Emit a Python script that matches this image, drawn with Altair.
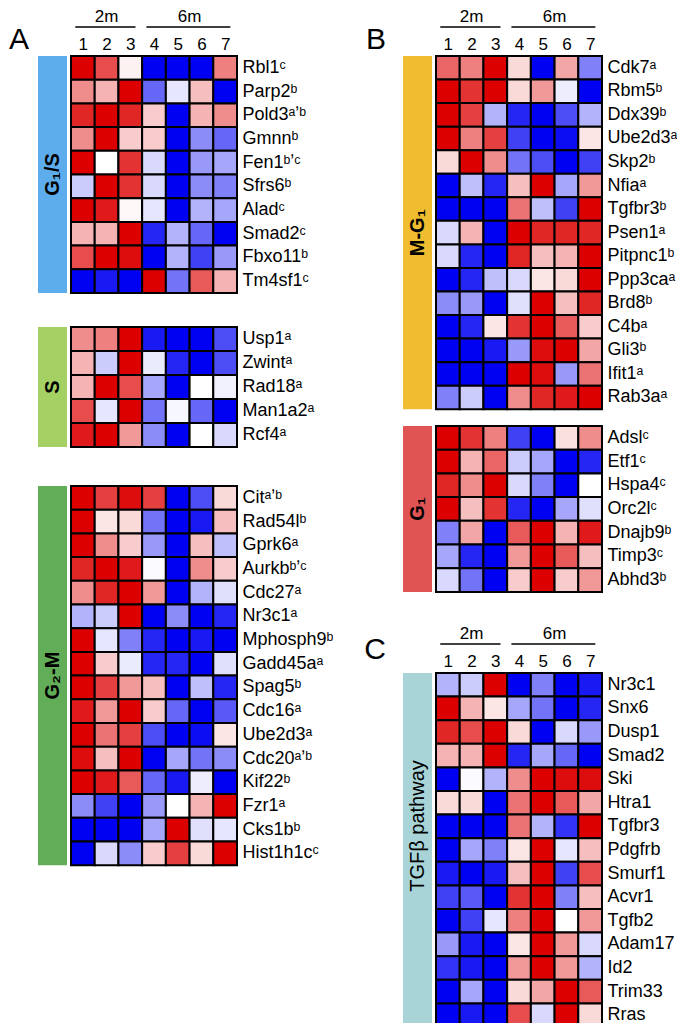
import altair as alt
import pandas as pd

# ---------------- data ----------------
columns = [1, 2, 3, 4, 5, 6, 7]
age_labels = ["2m", "6m"]
age_start = [1, 4]
age_end = [3, 7]

g1s_genes = ["Rbl1", "Parp2", "Pold3", "Gmnn", "Fen1", "Sfrs6", "Alad", "Smad2", "Fbxo11", "Tm4sf1"]
g1s_notes = ["c", "b", "a,b", "b", "b,c", "b", "c", "c", "b", "c"]
g1s_vals = [
    [1.0, 0.7, 0.05, -1.0, -1.0, -1.0, 0.5],
    [0.45, 0.3, 1.0, -0.6, -0.1, 0.25, -1.0],
    [0.85, 1.0, 0.85, 0.2, -1.0, 0.3, 0.45],
    [0.45, 1.0, 0.2, 0.2, -1.0, -0.45, -0.6],
    [1.0, 0.0, 0.8, -0.15, -1.0, -0.4, -0.35],
    [-0.2, 1.0, 0.8, -0.15, -1.0, -0.45, -0.5],
    [1.0, 0.9, 0.03, -0.1, -1.0, -0.3, -0.35],
    [0.3, 0.3, 1.0, -0.85, -0.3, -0.6, -1.0],
    [0.7, 1.0, 0.95, -1.0, -0.3, -0.75, -0.4],
    [-1.0, -0.9, -1.0, 1.0, -0.55, 0.65, 0.3],
]

s_genes = ["Usp1", "Zwint", "Rad18", "Man1a2", "Rcf4"]
s_notes = ["a", "a", "a", "a", "a"]
s_vals = [
    [0.45, 0.5, 1.0, -0.9, -1.0, -1.0, -0.7],
    [0.3, -0.2, 1.0, -0.08, -0.85, -1.0, -0.7],
    [0.3, 1.0, 0.7, -0.35, -1.0, 0.0, -0.05],
    [0.7, -0.1, 1.0, -0.55, -0.03, -0.6, -1.0],
    [0.9, 1.0, 0.4, -0.45, -1.0, 0.0, -0.15],
]

g2m_genes = ["Cit", "Rad54l", "Gprk6", "Aurkb", "Cdc27", "Nr3c1", "Mphosph9", "Gadd45a",
             "Spag5", "Cdc16", "Ube2d3", "Cdc20", "Kif22", "Fzr1", "Cks1b", "Hist1h1c"]
g2m_notes = ["a,b", "b", "a", "b,c", "a", "a", "b", "a", "b", "a", "a", "a,b", "b", "a", "b", "c"]
g2m_vals = [
    [1.0, 0.75, 0.95, 0.75, -1.0, -0.7, 0.15],
    [1.0, 0.1, 0.15, -0.55, -1.0, -0.9, 0.25],
    [1.0, 0.45, 0.2, -0.4, -1.0, 0.25, -0.25],
    [0.85, 1.0, 0.9, -0.02, -1.0, 0.45, 0.2],
    [0.45, 0.85, 1.0, 0.4, -1.0, -0.3, -0.12],
    [-0.3, -0.2, 1.0, -1.0, -0.45, -1.0, -0.85],
    [1.0, -0.1, -0.5, -0.85, -1.0, -0.9, -1.0],
    [1.0, 0.2, -0.08, -0.85, -0.85, -1.0, -0.12],
    [1.0, 0.75, 0.4, 0.25, -1.0, -0.25, -0.85],
    [0.9, 0.4, 1.0, 0.2, -0.6, -1.0, -0.65],
    [1.0, 0.55, 0.75, -0.7, -1.0, -0.95, 0.1],
    [0.95, 0.25, 1.0, -1.0, -0.35, -0.55, -0.45],
    [1.0, 0.9, 0.65, -0.6, -0.9, -0.07, -1.0],
    [-0.45, -0.75, -1.0, -0.4, 0.0, 0.3, 1.0],
    [-1.0, -1.0, -1.0, -0.35, 1.0, -0.12, -0.1],
    [-1.0, -0.15, -0.45, 0.2, 0.75, 0.15, 1.0],
]

mg1_genes = ["Cdk7", "Rbm5", "Ddx39", "Ube2d3", "Skp2", "Nfia", "Tgfbr3", "Psen1",
             "Pitpnc1", "Ppp3ca", "Brd8", "C4b", "Gli3", "Ifit1", "Rab3a"]
mg1_notes = ["a", "b", "b", "a", "b", "a", "b", "a", "b", "a", "b", "a", "b", "a", "a"]
mg1_vals = [
    [0.6, 0.5, 1.0, 0.15, -1.0, 0.35, -0.5],
    [1.0, 0.8, 1.0, 0.15, 0.4, -0.07, -1.0],
    [1.0, 0.75, -0.3, -0.85, -1.0, -0.7, -0.3],
    [1.0, 0.5, 0.75, -0.75, -1.0, -0.95, 0.1],
    [0.15, 1.0, 0.45, -0.55, -0.7, -1.0, -0.75],
    [-1.0, -0.25, -0.85, 0.25, 1.0, -0.35, 0.4],
    [-1.0, -1.0, -1.0, 0.55, -0.25, -0.75, 1.0],
    [-0.15, 0.3, -1.0, 1.0, 0.85, 0.85, 0.85],
    [-0.15, -0.85, -1.0, 0.85, 0.25, 0.3, 1.0],
    [-1.0, -0.85, -0.25, -0.15, 0.1, 0.15, 1.0],
    [-0.45, -0.4, -1.0, -0.12, 1.0, 0.25, 0.85],
    [-1.0, -0.85, 0.1, 0.8, 1.0, 0.65, 0.2],
    [-1.0, -1.0, -0.9, -0.4, 0.95, 1.0, 0.35],
    [-1.0, -1.0, -1.0, 1.0, 0.95, -0.4, 0.55],
    [-0.5, -0.2, -1.0, 0.45, 0.85, 0.9, 1.0],
]

g1_genes = ["Adsl", "Etf1", "Hspa4", "Orc2l", "Dnajb9", "Timp3", "Abhd3"]
g1_notes = ["c", "c", "c", "c", "b", "c", "b"]
g1_vals = [
    [1.0, 0.8, 0.5, -0.75, -1.0, 0.12, 0.45],
    [1.0, 0.3, 0.6, -0.2, -0.35, -1.0, -0.85],
    [0.85, 0.45, 1.0, -0.15, -0.5, -1.0, 0.0],
    [1.0, 0.25, 0.8, -0.85, -1.0, -0.35, -0.12],
    [-0.5, 0.35, -1.0, 0.65, 1.0, 0.3, 0.9],
    [-0.35, -0.85, -1.0, 0.4, 1.0, 0.65, 0.25],
    [-0.15, -0.55, -1.0, 0.2, 1.0, 0.2, 0.4],
]

tgf_genes = ["Nr3c1", "Snx6", "Dusp1", "Smad2", "Ski", "Htra1", "Tgfbr3", "Pdgfrb",
             "Smurf1", "Acvr1", "Tgfb2", "Adam17", "Id2", "Trim33", "Rras"]
tgf_notes = [""] * 15
tgf_vals = [
    [-0.3, -0.2, 1.0, -1.0, -0.5, -1.0, -0.9],
    [1.0, 0.3, 0.1, -0.35, -0.55, -1.0, -0.85],
    [0.85, 0.7, 1.0, 0.15, -1.0, -0.15, -0.4],
    [0.3, 0.3, 1.0, -0.85, -0.35, -0.6, -1.0],
    [-1.0, -0.02, -0.3, 0.45, 1.0, 0.95, 0.95],
    [0.15, 0.15, -1.0, 0.55, 1.0, 0.65, 0.35],
    [-1.0, -1.0, -1.0, 0.55, -0.3, -0.8, 1.0],
    [-1.0, -0.35, -0.5, 0.1, 1.0, -0.1, 0.25],
    [-0.9, -1.0, -0.9, 0.25, 1.0, -0.75, 0.7],
    [-0.75, -0.65, -1.0, 0.8, 1.0, -0.5, 0.25],
    [-1.0, -0.75, -0.1, 0.5, 1.0, 0.0, 0.4],
    [-0.4, -0.9, -1.0, 0.1, 1.0, 0.4, -0.15],
    [-0.8, -0.9, -1.0, 0.4, 1.0, 0.4, -0.3],
    [-1.0, -0.35, -1.0, 0.15, 0.35, 1.0, 0.65],
    [-1.0, -0.9, -1.0, 0.7, -0.15, 1.0, 0.15],
]

# ---------------- helpers ----------------
FONT = "Liberation Sans"
SUP = {"a": "\u1d43", "b": "\u1d47", "c": "\u1d9c", ",": "\u02bc"}
color_scale = alt.Scale(domain=[-1, 0, 1], range=["#0000f2", "#ffffff", "#dc0000"],
                        interpolate="rgb")
HEAT_W = 166
LABEL_SIZE = 18


def label_of(gene, note):
    return gene + "".join(SUP[ch] for ch in note)


def heat_panel(genes, notes, vals, cell, group, bar_color, group_weight="bold",
               group_dy=0, letter=None, letter_dx=-55, letter_dy=-7, header=False):
    labels = [label_of(g, n) for g, n in zip(genes, notes)]
    rows = []
    for lab, row in zip(labels, vals):
        for c, v in zip(columns, row):
            rows.append({"label": lab, "col": c, "val": v})
    df = pd.DataFrame(rows)
    height = len(genes) * cell

    xscale = alt.Scale(domain=[0.5, 7.5], nice=False, zero=False)
    if header:
        xaxis = alt.Axis(orient="top", values=columns, format="d", ticks=False, domain=False,
                         grid=False, labelFontSize=17, labelPadding=3, title=None,
                         labelFont=FONT, labelColor="black", labelOverlap=False,
                         labelFlush=False, labelBound=False)
    else:
        xaxis = None

    rect = alt.Chart(df).transform_calculate(
        x0="datum.col - 0.5", x1="datum.col + 0.5"
    ).mark_rect(stroke="black", strokeWidth=2).encode(
        x=alt.X("x0:Q", scale=xscale, axis=xaxis),
        x2="x1:Q",
        y=alt.Y("label:N", sort=labels,
                scale=alt.Scale(paddingInner=0, paddingOuter=0),
                axis=alt.Axis(orient="right", title=None, domain=False, ticks=False,
                              labelFontSize=LABEL_SIZE, labelPadding=5, labelFont=FONT,
                              labelColor="black", labelLimit=200)),
        color=alt.Color("val:Q", scale=color_scale, legend=None),
    )

    bdf = pd.DataFrame({"group": [group]})
    band = alt.Chart(bdf).mark_rect(color=bar_color).encode(
        x=alt.value(-33), x2=alt.value(-4), y=alt.value(0), y2=alt.value("height"))
    gtxt = alt.Chart(bdf).mark_text(angle=270, fontSize=20, fontWeight=group_weight,
                                    font=FONT, color="black").encode(
        x=alt.value(-18.5), y=alt.value(height / 2 + group_dy), text="group:N")
    layers = [rect, band, gtxt]

    if header:
        ages = pd.DataFrame({"age": age_labels, "start": age_start, "end": age_end})
        txt = alt.Chart(ages).transform_calculate(
            mid="(datum.start + datum.end) / 2"
        ).mark_text(fontSize=17, font=FONT, baseline="alphabetic", color="black").encode(
            x=alt.X("mid:Q", scale=xscale, axis=xaxis), y=alt.value(-34), text="age:N")
        rule = alt.Chart(ages).transform_calculate(
            a="datum.start - 0.32", b="datum.end + 0.22"
        ).mark_rule(color="black", strokeWidth=1.3).encode(
            x=alt.X("a:Q", scale=xscale, axis=xaxis), x2="b:Q", y=alt.value(-29))
        layers += [txt, rule]
    if letter:
        ldf = pd.DataFrame({"letter": [letter]})
        layers.append(alt.Chart(ldf).mark_text(fontSize=30, font=FONT, color="black",
                                               baseline="alphabetic").encode(
            x=alt.value(letter_dx), y=alt.value(letter_dy), text="letter:N"))
    return alt.layer(*layers).properties(width=HEAT_W, height=height)


def spacer(h):
    return alt.Chart(pd.DataFrame({"s": [""]})).mark_text(opacity=0).encode(
        x=alt.value(0), y=alt.value(0), text="s:N").properties(width=HEAT_W, height=h)


p_g1s = heat_panel(g1s_genes, g1s_notes, g1s_vals, 23.7, "G\u2081/S", "#5dadec",
                   letter="A", letter_dx=-52, letter_dy=-7, header=True)
p_s = heat_panel(s_genes, s_notes, s_vals, 24.0, "S", "#a4d064")
p_g2m = heat_panel(g2m_genes, g2m_notes, g2m_vals, 23.7, "G\u2082-M", "#62ad57")
p_mg1 = heat_panel(mg1_genes, mg1_notes, mg1_vals, 23.55, "M-G\u2081", "#f0bc30",
                   letter="B", letter_dx=-60, letter_dy=-7, header=True)
p_g1 = heat_panel(g1_genes, g1_notes, g1_vals, 23.7, "G\u2081", "#e05454")
p_tgf = heat_panel(tgf_genes, tgf_notes, tgf_vals, 23.6, "TGF\u03b2 pathway", "#a8d4d8",
                   group_weight="normal", group_dy=-24,
                   letter="C", letter_dx=-61, letter_dy=-14, header=True)

left = alt.vconcat(p_g1s, spacer(34), p_s, spacer(39), p_g2m, spacing=0, bounds="flush")
right = alt.vconcat(p_mg1, spacer(16), p_g1, spacer(81), p_tgf, spacing=0, bounds="flush")

chart = alt.hconcat(left, right, spacing=31, padding=0).configure_view(
    strokeWidth=0
).configure_axis(labelOverlap=False)

chart.save("out.html", embed_options={"renderer": "svg", "actions": False})
